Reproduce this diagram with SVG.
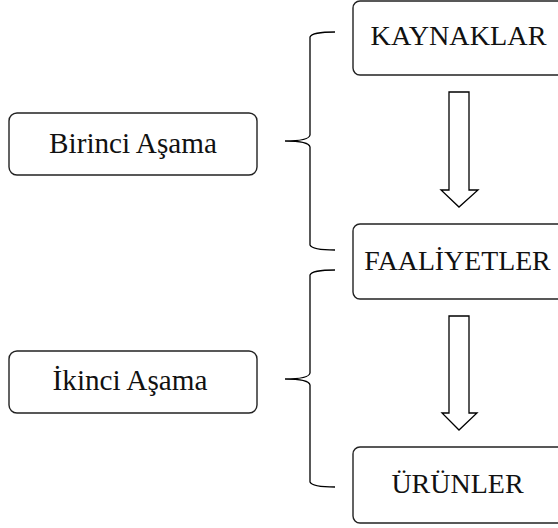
<svg xmlns="http://www.w3.org/2000/svg" width="558" height="528" viewBox="0 0 558 528">
<style>
.box{fill:#fff;stroke:#222;stroke-width:1.4}
.t{font-family:'Liberation Serif','DejaVu Serif',serif;fill:#111;text-anchor:middle}
.br{fill:none;stroke:#000;stroke-width:1.3}
.ar{fill:#fff;stroke:#000;stroke-width:1.3;stroke-linejoin:miter}
</style>
<rect width="558" height="528" fill="#fff"/>
<g id="kaynaklar"><rect class="box" x="353" y="1" width="215" height="74" rx="7"/><text class="t" x="458.5" y="45" font-size="28.2">KAYNAKLAR</text></g>
<g id="faaliyetler"><rect class="box" x="353" y="224" width="215" height="75" rx="7"/><text class="t" x="457.5" y="270" font-size="27.8">FAALİYETLER</text></g>
<g id="urunler"><rect class="box" x="353" y="447" width="215" height="76" rx="7"/><text class="t" x="457.5" y="493" font-size="28">ÜRÜNLER</text></g>
<g id="birinci"><rect class="box" x="9" y="113" width="248" height="62" rx="8"/><text class="t" x="133" y="153" font-size="29.2">Birinci Aşama</text></g>
<g id="ikinci"><rect class="box" x="9" y="351" width="248" height="62" rx="8"/><text class="t" x="130" y="390" font-size="29.2">İkinci Aşama</text></g>
<g id="connectors">
<path class="br" d="M335,32 Q312,32 310,37 L310,135 Q309,141 285,141 Q309,141 310,147 L310,245 Q312,250 335,250"/>
<path class="br" d="M335,270 Q312,270 310,275 L310,373 Q309,379 285,379 Q309,379 310,385 L310,482 Q312,487 335,487"/>
<path class="ar" d="M449,92 L469,92 L469,190 L478,190 L459,207 L441,190 L449,190 Z"/>
<path class="ar" d="M449,316 L469,316 L469,413 L477,413 L459,430 L442,413 L449,413 Z"/>
</g>
</svg>
